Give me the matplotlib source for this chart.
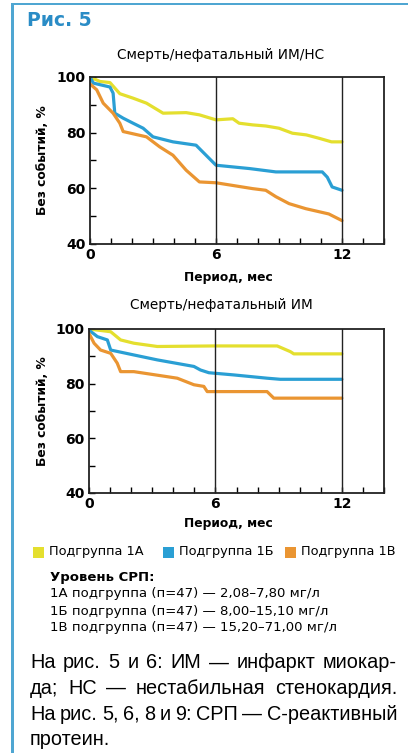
import matplotlib
matplotlib.use('Agg')
import matplotlib.pyplot as plt
from matplotlib.ticker import MultipleLocator
from matplotlib.patches import Rectangle

# Смерть/нефатальный ИМ/НС
top_1a_x = [0, 0.47, 0.95, 1.42, 2.05, 2.69, 3.48, 4.58, 5.21, 6.0, 6.8, 7.1, 7.74, 8.37, 9.0, 9.64, 10.3, 10.9, 11.5, 12]
top_1a_y = [100, 98.4, 98, 94, 92.4, 90.6, 87, 87.2, 86.4, 84.6, 85, 83.4, 82.8, 82.4, 81.6, 79.8, 79.2, 78, 76.7, 76.7]
top_1b_x = [0, 0.16, 0.95, 1.1, 1.18, 1.58, 2.05, 2.53, 3.0, 3.95, 5.05, 6.0, 6.8, 7.6, 8.85, 11.06, 11.3, 11.53, 12]
top_1b_y = [100, 97.8, 96.4, 94.2, 87, 85.2, 83.4, 81.6, 78.5, 76.7, 75.5, 68.3, 67.7, 67.1, 65.9, 65.9, 64, 60.5, 59.3]
top_1v_x = [0, 0.32, 0.63, 1.1, 1.42, 1.58, 2.69, 3.32, 3.95, 4.58, 5.21, 6.0, 7.74, 8.37, 8.85, 9.48, 10.27, 11.37, 12]
top_1v_y = [97.5, 95.4, 90.6, 87, 83.4, 80.4, 78.5, 74.9, 71.9, 66.5, 62.3, 62, 59.9, 59.3, 57, 54.5, 52.7, 50.8, 48.4]

# Смерть/нефатальный ИМ
bot_1a_x = [0, 1.03, 1.5, 2.13, 3.24, 5.92, 8.93, 9.56, 9.72, 12]
bot_1a_y = [100, 99, 96, 94.8, 93.6, 93.8, 93.8, 91.7, 90.9, 90.9]
bot_1b_x = [0, 0.4, 0.87, 1.03, 2.13, 3.24, 4.98, 5.29, 5.69, 6.87, 8.45, 9.08, 12]
bot_1b_y = [99.6, 97.2, 96, 92.3, 90.5, 88.7, 86.3, 85, 84, 83.2, 82, 81.6, 81.6]
bot_1v_x = [0, 0.24, 0.55, 1.03, 1.34, 1.5, 2.13, 4.19, 4.98, 5.45, 5.61, 8.45, 8.77, 12]
bot_1v_y = [98.4, 94.8, 92.3, 91.1, 87.5, 84.4, 84.4, 82, 79.6, 79, 77.1, 77.1, 74.7, 74.7]

groups = ['Подгруппа 1А', 'Подгруппа 1Б', 'Подгруппа 1В']
colors = ['#e4df2e', '#2a9fd4', '#ea9532']
crp_lines = ['Уровень СРП:',
             '1А подгруппа (п=47) — 2,08–7,80 мг/л',
             '1Б подгруппа (п=47) — 8,00–15,10 мг/л',
             '1В подгруппа (п=47) — 15,20–71,00 мг/л']
note_lines = ['На рис. 5 и 6: ИМ — инфаркт миокар-',
              'да; НС — нестабильная стенокардия.',
              'На рис. 5, 6, 8 и 9: СРП — С-реактивный',
              'протеин.']

W, H = 408, 753
fig = plt.figure(figsize=(W / 100, H / 100), dpi=100)
plt.rcParams['font.family'] = ['DejaVu Sans']


def fx(x):
    return x / W


def fy(y):
    return 1 - y / H


def draw_panel(rect, title, series, title_y, xlabel_y):
    ax = fig.add_axes(rect)
    for (xs, ys), c in zip(series, colors):
        ax.plot(xs, ys, color=c, lw=2.3, solid_capstyle='round', solid_joinstyle='round')
    ax.axvline(6, color='#222222', lw=1)
    ax.axvline(12, color='#222222', lw=1)
    ax.set_xlim(0, 14)
    ax.set_ylim(40, 100)
    ax.set_xticks([0, 6, 12])
    ax.set_yticks([40, 60, 80, 100])
    ax.xaxis.set_minor_locator(MultipleLocator(1))
    ax.yaxis.set_minor_locator(MultipleLocator(10))
    ax.tick_params(which='both', direction='in', length=4, width=1, labelsize=10, pad=3)
    ax.tick_params(which='both', top=False, right=False)
    for lab in ax.get_xticklabels() + ax.get_yticklabels():
        lab.set_fontweight('bold')
    for s in ax.spines.values():
        s.set_linewidth(1.3)
        s.set_color('#222222')
    fig.text(fx(221), fy(title_y), title, ha='center', va='center', fontsize=9.8,
             fontweight='medium')
    fig.text(fx(228), fy(xlabel_y), 'Период, мес', ha='center', va='center',
             fontsize=8.8, fontweight='bold')
    fig.text(fx(42), rect[1] + rect[3] * 0.5, 'Без событий, %', ha='center', va='center',
             rotation=90, fontsize=8.8, fontweight='bold')
    return ax


draw_panel([fx(90), fy(244), fx(294), 167 / H], 'Смерть/нефатальный ИМ/НС',
           [(top_1a_x, top_1a_y), (top_1b_x, top_1b_y), (top_1v_x, top_1v_y)], 55, 277)
draw_panel([fx(89), fy(493), fx(295), 164 / H], 'Смерть/нефатальный ИМ',
           [(bot_1a_x, bot_1a_y), (bot_1b_x, bot_1b_y), (bot_1v_x, bot_1v_y)], 305, 523)

# frame and figure label
fig.add_artist(Rectangle((fx(11), 0), fx(2.5), fy(3), transform=fig.transFigure,
                         color='#4fa6d2', lw=0))
fig.add_artist(Rectangle((fx(11), fy(5)), 1, 2.5 / H, transform=fig.transFigure,
                         color='#4fa6d2', lw=0))
fig.text(fx(27), fy(20), 'Рис. 5', ha='left', va='center', fontsize=13.5,
         fontweight='bold', color='#2a8cc6')

# legend
leg_x = [33, 163, 285]
for x, g, c in zip(leg_x, groups, colors):
    fig.add_artist(Rectangle((fx(x), fy(558)), fx(11), 11 / H, transform=fig.transFigure,
                             color=c, lw=0))
    fig.text(fx(x + 16), fy(552), g, ha='left', va='center', fontsize=9.3)

for i, line in enumerate(crp_lines):
    fig.text(fx(50), fy(577 + i * 17), line, ha='left', va='center', fontsize=9.5,
             fontweight='bold' if i == 0 else 'normal')

# justified note
renderer = fig.canvas.get_renderer()
x0, x1 = 30, 397
for i, line in enumerate(note_lines):
    y = fy(663 + i * 25.6)
    words = line.split(' ')
    txts = [fig.text(0, y, w, ha='left', va='center', fontsize=14.3,
                     family='Liberation Sans') for w in words]
    widths = [t.get_window_extent(renderer).width for t in txts]
    if i == len(note_lines) - 1:
        gap = renderer.points_to_pixels(14.3) * 0.28
    else:
        gap = (x1 - x0 - sum(widths)) / (len(words) - 1)
    x = x0
    for t, w in zip(txts, widths):
        t.set_x(fx(x))
        x += w + gap

fig.savefig('out.png', dpi=100)
